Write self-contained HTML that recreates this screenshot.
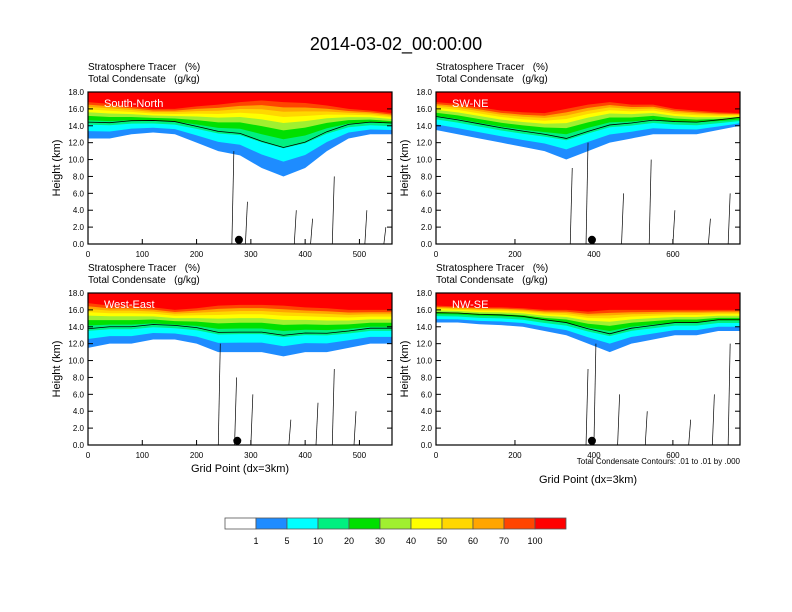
<!DOCTYPE html>
<html><head><meta charset="utf-8"><style>
body{margin:0;background:#fff}
svg{display:block;font-family:"Liberation Sans",Arial,sans-serif}
text{white-space:pre}
</style></head><body>
<svg id="c" width="792" height="612" xmlns="http://www.w3.org/2000/svg">
<text x="396" y="50" font-size="18" text-anchor="middle">2014-03-02_00:00:00</text>
</svg>
<script>
const levels=["1","5","10","20","30","40","50","60","70","100"];
const colors=["#ffffff","#1e8cff","#00ffff","#00f080","#00e000","#a0f030","#ffff00","#ffd700","#ffa500","#ff4500","#ff0000"];
const fracs=[1,0.8,0.62,0.5,0.38,0.28,0.2,0.13,0.07,0];
const panelNames=["South-North","SW-NE","West-East","NW-SE"];
const xMaxs=[560,770,560,770];
const xTicksA=[0,100,200,300,400,500];
const xTicksB=[0,200,400,600];
const yTicks=[0,2,4,6,8,10,12,14,16,18];
const redBase=[
[16.8,16.6,16.3,16.0,16.0,16.3,16.5,16.8,17.0,16.8,16.7,16.4,16.0,15.8,15.5],
[16.8,16.6,16.2,15.8,15.6,15.5,16.0,16.5,16.8,16.5,16.5,16.0,15.8,15.6,15.5],
[16.8,16.5,16.5,16.3,16.0,16.2,16.5,16.6,16.6,16.5,16.3,16.2,16.0,16.0,16.0],
[16.5,16.4,16.3,16.3,16.2,16.0,16.0,15.8,16.0,16.0,16.0,16.0,16.0,16.0,16.0]];
const blueBase=[
[12.5,12.5,13.0,13.2,13.0,12.0,11.0,10.5,9.0,8.0,9.0,11.0,12.5,13.0,13.0],
[13.5,13.0,12.5,12.0,11.5,11.0,10.0,11.0,12.0,12.5,13.0,13.0,13.0,13.5,14.0],
[11.5,12.0,12.0,12.5,12.5,12.0,11.0,11.0,11.0,10.5,11.0,11.0,11.5,12.0,12.0],
[14.5,14.5,14.3,14.2,14.0,13.5,13.0,12.0,11.0,12.0,12.5,13.0,13.0,13.5,13.5]];
const vContours=[
[[265,0,11],[290,0,5],[380,0,4],[410,0,3],[450,0,8],[510,0,4],[545,0,2]],
[[340,0,9],[380,0,12],[470,0,6],[540,0,10],[600,0,4],[690,0,3],[740,0,6]],
[[240,0,12],[270,0,8],[300,0,6],[370,0,3],[420,0,5],[450,0,9],[490,0,4]],
[[380,0,9],[400,0,12],[460,0,6],[530,0,4],[640,0,3],[700,0,6],[740,0,12]]];
const dotX=[278,395,275,395];
const boxes=[[88,92],[436,92],[88,293],[436,293]];
const W=304,H=152;
const svg=document.getElementById('c');
const NS="http://www.w3.org/2000/svg";
function mk(t,a,p){const e=document.createElementNS(NS,t);for(const k in a)e.setAttribute(k,a[k]);(p||svg).appendChild(e);return e;}
for(let p=0;p<4;p++){
 const [x0,y0]=boxes[p];
 const xs=v=>x0+v/xMaxs[p]*W, ys=v=>y0+H-v/18*H;
 const g=mk('g',{});
 
 
 const n=redBase[p].length;
 for(let L=0;L<levels.length;L++){
  let pts=[xs(0)+','+ys(18)];
  for(let i=0;i<n;i++){const h=redBase[p][i]+(blueBase[p][i]-redBase[p][i])*fracs[L];pts.push(xs(i/(n-1)*xMaxs[p])+','+ys(h));}
  pts.push(xs(xMaxs[p])+','+ys(18));
  const pg=mk('polygon',{points:pts.join(' '),fill:colors[L+1]},g);
  
  
 }
 let cp=[];for(let i=0;i<n;i++){cp.push(xs(i/(n-1)*xMaxs[p])+','+ys((redBase[p][i]+blueBase[p][i]*2)/3+0.5));}
 const cl=mk('polyline',{points:cp.join(' '),fill:'none',stroke:'#000','stroke-width':0.8},g);
 
 
 for(const [vx,a,b] of vContours[p]){
  const vl=mk('line',{x1:xs(vx),x2:xs(vx)+2,y1:ys(a),y2:ys(b),stroke:'#000','stroke-width':0.7},g);
  
  
 }
 const dot=mk('circle',{cx:xs(dotX[p]),cy:ys(0.5),r:4,fill:'#000'},g);
 
 
 const fr=mk('rect',{x:x0,y:y0,width:W,height:H,fill:'none',stroke:'#000','stroke-width':1.2},g);
 
 
 const nm=mk('text',{x:x0+16,y:y0+15,'font-size':11,fill:'#fff'},g);nm.textContent=panelNames[p];
 
 
 const t1=mk('text',{x:x0,y:y0-22,'font-size':10},g);t1.textContent="Stratosphere Tracer   (%)";
 
 
 const t2=mk('text',{x:x0,y:y0-10,'font-size':10},g);t2.textContent="Total Condensate   (g/kg)";
 
 
 for(const v of yTicks){
  mk('line',{x1:x0,x2:x0+5,y1:ys(v),y2:ys(v),stroke:'#000'},g);
  mk('line',{x1:x0+W,x2:x0+W-5,y1:ys(v),y2:ys(v),stroke:'#000'},g);
  const t=mk('text',{x:x0-4,y:ys(v)+3,'font-size':8,'text-anchor':'end'},g);t.textContent=v.toFixed(1);
  
  
 }
 for(const v of (xMaxs[p]==560?xTicksA:xTicksB)){
  mk('line',{x1:xs(v),x2:xs(v),y1:y0+H,y2:y0+H-5,stroke:'#000'},g);
  const t=mk('text',{x:xs(v),y:y0+H+13,'font-size':8,'text-anchor':'middle'},g);t.textContent=v;
  
  
 }
 const yt=mk('text',{x:0,y:0,'font-size':11,'text-anchor':'middle',transform:`translate(${x0-28},${y0+H/2}) rotate(-90)`},g);yt.textContent="Height (km)";
 
 
}
for(const [x,y] of [[240,472],[588,483]]){
 const t=mk('text',{x:x,y:y,'font-size':11,'text-anchor':'middle'});t.textContent="Grid Point (dx=3km)";
 
 
}
const note=mk('text',{x:740,y:464,'font-size':8,'text-anchor':'end'});note.textContent="Total Condensate Contours: .01 to .01 by .000";


const bw=341/11;
for(let i=0;i<11;i++){
 const r=mk('rect',{x:225+i*bw,y:518,width:bw,height:11,fill:colors[i],stroke:'#555','stroke-width':0.8});
 
 
 if(i<10){const t=mk('text',{x:225+(i+1)*bw,y:544,'font-size':9,'text-anchor':'middle'});t.textContent=levels[i];
 
 }
}
</script>
</body></html>
